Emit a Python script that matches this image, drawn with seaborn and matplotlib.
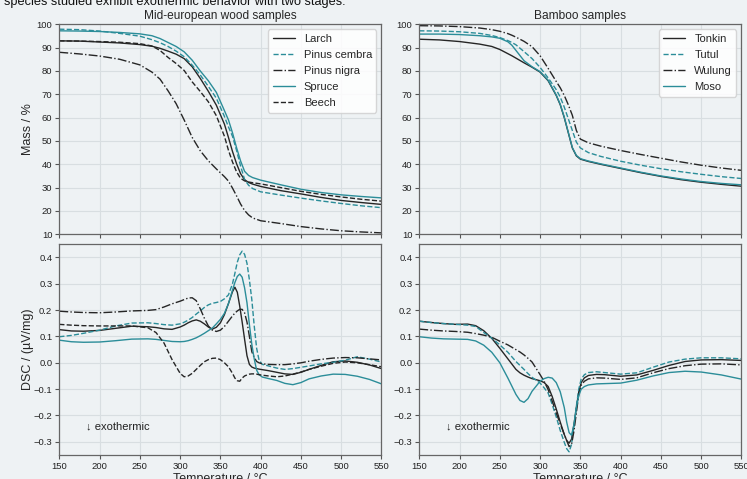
import matplotlib
matplotlib.use("Agg")
import matplotlib.pyplot as plt
import seaborn as sns

# ---------------------------------------------------------------- data
# Thermogravimetry, mid-european woods (mass in %)
T_tg_wood = [150, 175, 200, 225, 250, 265, 275, 285, 295, 305, 315, 325, 335, 345,
             355, 360, 365, 370, 375, 380, 385, 390, 400, 425, 450, 475, 500, 525, 550]
tg_larch = [92.9, 92.8, 92.4, 92.0, 91.3, 90.6, 89.7, 88.5, 87.2, 85.3, 81.8, 76.8, 71.3, 65.3,
            57.2, 51.5, 45.5, 40.3, 36.0, 33.4, 32.2, 31.5, 30.5, 28.7, 27.3, 25.8, 24.5, 23.6, 22.8]
tg_pinus_cembra = [97.9, 97.7, 97.1, 96.1, 94.9, 93.4, 92.1, 90.5, 88.5, 86.1, 82.5, 78.3, 73.4, 68.3,
                   60.5, 56.0, 52.0, 46.0, 39.3, 33.5, 31.0, 29.6, 28.2, 26.8, 25.5, 24.3, 23.2, 22.2, 21.4]
tg_pinus_nigra = [88.0, 87.3, 86.4, 85.0, 82.6, 79.5, 76.5, 71.5, 66.0, 59.0, 51.5, 45.8, 41.5, 38.0,
                  34.7, 32.8, 29.8, 26.5, 23.0, 20.2, 18.3, 17.0, 15.8, 14.6, 13.3, 12.3, 11.5, 11.0, 10.6]
tg_spruce = [97.2, 97.1, 96.9, 96.5, 95.9, 95.1, 93.9, 92.2, 90.5, 88.2, 84.6, 80.0, 75.8, 70.8,
             63.0, 59.0, 53.5, 47.2, 41.5, 37.0, 35.2, 34.3, 33.2, 31.2, 29.3, 27.9, 26.9, 26.2, 25.6]
tg_beech = [92.9, 92.8, 92.6, 92.3, 91.7, 90.7, 88.8, 85.8, 83.2, 80.2, 75.3, 71.2, 66.8, 60.8,
            52.0, 46.0, 41.0, 36.8, 34.0, 32.9, 32.4, 32.1, 31.6, 30.0, 28.4, 27.1, 26.0, 25.0, 24.2]

# Thermogravimetry, bamboo (mass in %)
T_tg_bamboo = [150, 175, 200, 225, 240, 250, 260, 265, 270, 280, 290, 300, 310, 320, 325,
               330, 335, 340, 345, 350, 360, 375, 400, 425, 450, 475, 500, 525, 550]
tg_tonkin = [93.6, 93.3, 92.6, 91.5, 90.5, 89.2, 87.4, 86.5, 85.5, 83.5, 81.6, 79.5, 75.8, 69.5, 65.5,
             60.0, 53.5, 47.0, 43.6, 42.2, 41.2, 40.0, 38.2, 36.4, 34.8, 33.4, 32.3, 31.4, 30.6]
tg_tutul = [97.2, 97.1, 96.8, 96.1, 95.2, 94.3, 93.0, 92.2, 91.2, 88.3, 85.3, 81.5, 77.0, 72.0, 68.8,
            64.5, 59.5, 54.5, 49.5, 47.0, 45.0, 43.4, 41.3, 39.6, 38.1, 36.8, 35.7, 34.7, 33.9]
tg_wulung = [99.4, 99.3, 99.0, 98.4, 97.7, 97.0, 96.0, 95.3, 94.5, 92.7, 90.4, 86.5, 81.1, 75.5, 72.8,
             69.5, 65.5, 61.0, 54.5, 50.8, 49.2, 47.8, 45.9, 44.2, 42.6, 41.0, 39.6, 38.4, 37.4]
tg_moso = [95.8, 95.8, 95.6, 95.1, 94.6, 94.0, 92.5, 91.0, 88.8, 84.4, 81.8, 79.7, 76.0, 69.7, 65.7,
           60.2, 53.7, 47.2, 43.8, 42.4, 41.4, 40.2, 38.4, 36.6, 35.0, 33.7, 32.6, 31.8, 31.2]

# Differential scanning calorimetry, mid-european woods (µV/mg)
T_dsc_wood = [150, 165, 180, 200, 220, 240, 260, 270, 280, 290, 300, 305, 310, 315, 320, 325,
              330, 335, 340, 345, 350, 355, 360, 365, 368, 371, 374, 377, 380, 383, 386, 389,
              392, 395, 398, 402, 410, 420, 430, 440, 450, 460, 475, 490, 505, 520, 535, 550]
dsc_larch = [0.126, 0.121, 0.120, 0.123, 0.131, 0.139, 0.137, 0.134, 0.129, 0.127, 0.136, 0.143,
             0.152, 0.159, 0.163, 0.158, 0.148, 0.136, 0.128, 0.135, 0.152, 0.183, 0.225, 0.270,
             0.287, 0.268, 0.215, 0.155, 0.090, 0.027, -0.006, -0.016, -0.020, -0.022, -0.024,
             -0.026, -0.030, -0.036, -0.042, -0.044, -0.036, -0.025, -0.010, 0.004, 0.007, 0.002,
             -0.008, -0.022]
dsc_pinus_cembra = [0.099, 0.104, 0.112, 0.124, 0.140, 0.151, 0.152, 0.149, 0.145, 0.143, 0.148,
                    0.154, 0.162, 0.172, 0.185, 0.197, 0.210, 0.220, 0.226, 0.229, 0.233, 0.243,
                    0.258, 0.300, 0.340, 0.382, 0.410, 0.424, 0.412, 0.378, 0.315, 0.240, 0.140,
                    0.055, 0.010, -0.006, -0.012, -0.020, -0.025, -0.022, -0.017, -0.012, -0.004,
                    0.002, 0.010, 0.023, 0.014, 0.003]
dsc_pinus_nigra = [0.196, 0.193, 0.191, 0.190, 0.193, 0.197, 0.199, 0.202, 0.212, 0.224, 0.234,
                   0.240, 0.246, 0.247, 0.236, 0.205, 0.170, 0.140, 0.124, 0.119, 0.124, 0.138,
                   0.158, 0.178, 0.189, 0.197, 0.203, 0.203, 0.190, 0.155, 0.100, 0.042, 0.020,
                   0.005, 0.000, -0.004, -0.006, -0.007, -0.007, -0.004, 0.000, 0.006, 0.013,
                   0.018, 0.020, 0.019, 0.015, 0.011]
dsc_spruce = [0.086, 0.080, 0.078, 0.079, 0.084, 0.090, 0.091, 0.089, 0.085, 0.081, 0.080, 0.081,
              0.084, 0.089, 0.095, 0.103, 0.112, 0.122, 0.132, 0.148, 0.165, 0.188, 0.225, 0.276,
              0.305, 0.328, 0.337, 0.325, 0.285, 0.228, 0.145, 0.070, 0.015, -0.028, -0.045,
              -0.054, -0.060, -0.067, -0.078, -0.083, -0.075, -0.061, -0.050, -0.043, -0.044,
              -0.051, -0.063, -0.080]
dsc_beech = [0.146, 0.143, 0.141, 0.140, 0.140, 0.140, 0.133, 0.115, 0.075, 0.012, -0.040, -0.053,
             -0.050, -0.040, -0.025, -0.010, 0.004, 0.012, 0.017, 0.018, 0.012, 0.000, -0.015,
             -0.040, -0.058, -0.068, -0.070, -0.058, -0.050, -0.046, -0.043, -0.042, -0.042,
             -0.043, -0.045, -0.047, -0.050, -0.053, -0.050, -0.043, -0.035, -0.025, -0.013,
             -0.002, 0.003, 0.000, -0.007, -0.015]

# Differential scanning calorimetry, bamboo (µV/mg)
T_dsc_bamboo = [150, 165, 180, 195, 210, 220, 230, 240, 250, 260, 270, 275, 280, 285, 290, 300,
                305, 310, 315, 320, 325, 330, 333, 336, 339, 342, 345, 348, 351, 355, 360, 370,
                380, 400, 420, 440, 460, 480, 500, 525, 550]
dsc_tonkin = [0.158, 0.153, 0.149, 0.146, 0.147, 0.141, 0.122, 0.093, 0.055, 0.015, -0.025, -0.038,
              -0.047, -0.054, -0.060, -0.068, -0.075, -0.090, -0.128, -0.175, -0.225, -0.272,
              -0.295, -0.305, -0.290, -0.235, -0.170, -0.110, -0.075, -0.057, -0.048, -0.044,
              -0.045, -0.051, -0.046, -0.029, -0.010, 0.005, 0.011, 0.012, 0.009]
dsc_tutul = [0.158, 0.153, 0.149, 0.146, 0.143, 0.138, 0.115, 0.094, 0.068, 0.040, 0.005, -0.010,
             -0.025, -0.041, -0.055, -0.077, -0.095, -0.115, -0.158, -0.205, -0.257, -0.302,
             -0.326, -0.338, -0.310, -0.240, -0.165, -0.100, -0.062, -0.045, -0.037, -0.034,
             -0.037, -0.043, -0.038, -0.017, 0.003, 0.014, 0.019, 0.019, 0.015]
dsc_wulung = [0.128, 0.124, 0.121, 0.119, 0.116, 0.111, 0.105, 0.097, 0.082, 0.068, 0.050, 0.041,
              0.030, 0.017, 0.003, -0.045, -0.070, -0.102, -0.145, -0.190, -0.232, -0.272,
              -0.295, -0.318, -0.310, -0.260, -0.190, -0.120, -0.085, -0.070, -0.061, -0.057,
              -0.058, -0.063, -0.057, -0.038, -0.022, -0.011, -0.005, -0.004, -0.008]
dsc_moso = [0.099, 0.094, 0.091, 0.090, 0.089, 0.083, 0.067, 0.040, 0.000, -0.058, -0.120, -0.143,
            -0.150, -0.136, -0.108, -0.070, -0.060, -0.055, -0.058, -0.075, -0.110, -0.170,
            -0.225, -0.265, -0.275, -0.235, -0.170, -0.125, -0.100, -0.090, -0.084, -0.080,
            -0.079, -0.077, -0.066, -0.050, -0.037, -0.032, -0.035, -0.046, -0.062]

wood_names = ["Larch", "Pinus cembra", "Pinus nigra", "Spruce", "Beech"]
bamboo_names = ["Tonkin", "Tutul", "Wulung", "Moso"]

x_ticks = [150, 200, 250, 300, 350, 400, 450, 500, 550]
tg_ticks = [10, 20, 30, 40, 50, 60, 70, 80, 90, 100]
dsc_ticks = [-0.3, -0.2, -0.1, 0.0, 0.1, 0.2, 0.3, 0.4]

# ---------------------------------------------------------------- style
BG = "#eef2f4"
BLACK = "#262626"
TEAL = "#2b8d99"
styles = {
    "Larch": (BLACK, "-"),
    "Pinus cembra": (TEAL, "--"),
    "Pinus nigra": (BLACK, "-."),
    "Spruce": (TEAL, "-"),
    "Beech": (BLACK, "--"),
    "Tonkin": (BLACK, "-"),
    "Tutul": (TEAL, "--"),
    "Wulung": (BLACK, "-."),
    "Moso": (TEAL, "-"),
}

sns.set_theme(style="whitegrid", rc={
    "figure.facecolor": BG,
    "axes.facecolor": BG,
    "axes.edgecolor": "#666666",
    "axes.linewidth": 0.9,
    "grid.color": "#d8dee1",
    "grid.linewidth": 0.8,
    "xtick.bottom": True,
    "ytick.left": True,
    "xtick.direction": "out",
    "ytick.direction": "out",
    "xtick.major.size": 3,
    "ytick.major.size": 3,
    "xtick.major.width": 0.8,
    "ytick.major.width": 0.8,
    "xtick.color": "#555555",
    "ytick.color": "#555555",
    "xtick.labelcolor": "#222222",
    "ytick.labelcolor": "#222222",
    "xtick.labelsize": 6.8,
    "ytick.labelsize": 6.8,
    "xtick.major.pad": 2,
    "ytick.major.pad": 2,
})
plt.rcParams["font.family"] = ["Liberation Sans", "DejaVu Sans"]

fig = plt.figure(figsize=(7.47, 4.79), dpi=100)
ax_tg_w = fig.add_axes([0.0794, 0.5109, 0.4313, 0.4384])
ax_tg_b = fig.add_axes([0.5613, 0.5109, 0.4313, 0.4384])
ax_dsc_w = fig.add_axes([0.0794, 0.0501, 0.4313, 0.4399])
ax_dsc_b = fig.add_axes([0.5613, 0.0501, 0.4313, 0.4399])

panels = [
    (ax_tg_w, T_tg_wood, [tg_larch, tg_pinus_cembra, tg_pinus_nigra, tg_spruce, tg_beech], wood_names),
    (ax_tg_b, T_tg_bamboo, [tg_tonkin, tg_tutul, tg_wulung, tg_moso], bamboo_names),
    (ax_dsc_w, T_dsc_wood, [dsc_larch, dsc_pinus_cembra, dsc_pinus_nigra, dsc_spruce, dsc_beech], wood_names),
    (ax_dsc_b, T_dsc_bamboo, [dsc_tonkin, dsc_tutul, dsc_wulung, dsc_moso], bamboo_names),
]

for ax, temps, series, names in panels:
    for values, name in zip(series, names):
        color, ls = styles[name]
        sns.lineplot(x=temps, y=values, ax=ax, color=color, linestyle=ls,
                     linewidth=1.0, label=name, sort=False, estimator=None)
    ax.set_xlim(150, 550)
    ax.set_xticks(x_ticks)
    for side in ["top", "right", "left", "bottom"]:
        ax.spines[side].set_visible(True)
    if ax.get_legend() is not None:
        ax.get_legend().remove()

for ax in (ax_tg_w, ax_tg_b):
    ax.set_ylim(10, 100)
    ax.set_yticks(tg_ticks)
    ax.tick_params(labelbottom=False)
    ax.legend(loc="upper right", fontsize=8, frameon=True, framealpha=0.85,
              edgecolor="#d0d0d0", facecolor="white", borderaxespad=0.45,
              handlelength=2.0, labelspacing=0.55)

for ax in (ax_dsc_w, ax_dsc_b):
    ax.set_ylim(-0.35, 0.45)
    ax.set_yticks(dsc_ticks)
    ax.set_xlabel("Temperature / °C", fontsize=9, labelpad=1.5)
    ax.text(183, -0.24, "↓ exothermic", fontsize=8, va="center", ha="left",
            color="#222222", family=["Liberation Sans", "DejaVu Sans"])

ax_tg_w.set_ylabel("Mass / %", fontsize=9)
ax_dsc_w.set_ylabel("DSC / (µV/mg)", fontsize=9)
for ax in (ax_tg_w, ax_dsc_w):
    ax.yaxis.set_label_coords(-0.078, 0.5)
for ax in (ax_tg_b, ax_dsc_b):
    ax.set_ylabel("")

ax_tg_w.set_title("Mid-european wood samples", fontsize=8.6, pad=3.5)
ax_tg_b.set_title("Bamboo samples", fontsize=8.6, pad=3.5)

fig.text(0.006, 1 - 4.5 / 479, "species studied exhibit exothermic behavior with two stages.",
         fontsize=9.2, va="baseline", ha="left", color="#111111")

fig.savefig("out.png", dpi=100, facecolor=BG)
